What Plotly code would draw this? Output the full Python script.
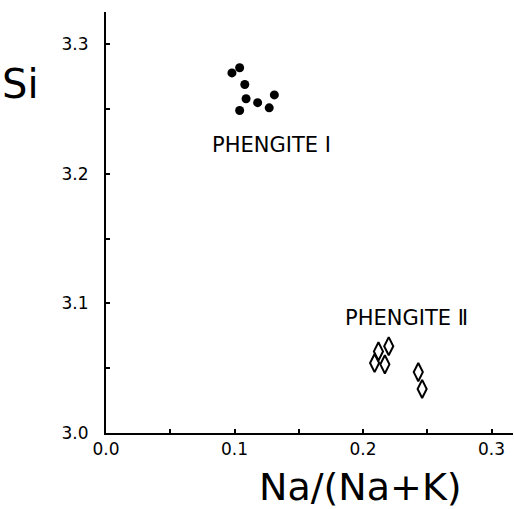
import plotly.graph_objects as go

# Phengite I (filled circles)
ph1_x = [0.098, 0.104, 0.108, 0.109, 0.118, 0.131, 0.127, 0.104]
ph1_y = [3.278, 3.282, 3.269, 3.258, 3.255, 3.261, 3.251, 3.249]

# Phengite II (open diamonds)
ph2_x = [0.209, 0.212, 0.217, 0.220, 0.243, 0.246]
ph2_y = [3.054, 3.063, 3.053, 3.067, 3.047, 3.034]

x_tickvals = [0.0, 0.05, 0.1, 0.15, 0.2, 0.25, 0.3]
x_ticktext = ["0.0", "", "0.1", "", "0.2", "", "0.3"]
y_tickvals = [3.0, 3.05, 3.1, 3.15, 3.2, 3.25, 3.3]
y_ticktext = ["3.0", "", "3.1", "", "3.2", "", "3.3"]

labels = ["PHENGITE Ⅰ", "PHENGITE Ⅱ"]
label_x = [0.129, 0.234]
label_y = [3.2226, 3.0889]

FONT = "DejaVu Sans, sans-serif"

fig = go.Figure()
fig.add_trace(go.Scatter(x=ph1_x, y=ph1_y, mode="markers",
                         marker=dict(symbol="circle", size=9, color="black"),
                         showlegend=False))
fig.add_trace(go.Scatter(x=ph2_x, y=ph2_y, mode="markers",
                         marker=dict(symbol="diamond-tall-open", size=13, color="black",
                                     line=dict(width=2, color="black")),
                         showlegend=False))

for t, x, y in zip(labels, label_x, label_y):
    fig.add_annotation(x=x, y=y, text=t, showarrow=False,
                       font=dict(family=FONT, size=21, color="black"))

fig.add_annotation(xref="paper", yref="paper", x=-0.21, y=0.83, text="Si",
                   showarrow=False, font=dict(family=FONT, size=40, color="black"),
                   xanchor="center", yanchor="middle")
fig.add_annotation(xref="paper", yref="paper", x=0.625, y=-0.128, text="Na/(Na+K)",
                   showarrow=False, font=dict(family=FONT, size=38, color="black"),
                   xanchor="center", yanchor="middle")

fig.update_xaxes(range=[0, 0.3167], tickvals=x_tickvals, ticktext=x_ticktext,
                 ticks="inside", ticklen=4, tickwidth=1.5, tickcolor="black",
                 showline=True, linecolor="black", linewidth=2, automargin=False,
                 showgrid=False, zeroline=False,
                 tickfont=dict(family=FONT, size=17, color="black"))
fig.update_yaxes(range=[3.0, 3.325], tickvals=y_tickvals, ticktext=y_ticktext,
                 ticks="inside", ticklen=4, tickwidth=1.5, tickcolor="black",
                 showline=True, linecolor="black", linewidth=2, automargin=False,
                 showgrid=False, zeroline=False, ticklabelstandoff=12,
                 tickfont=dict(family=FONT, size=17, color="black"))

fig.update_layout(width=514, height=509, margin=dict(l=106, r=1, t=12, b=76),
                  plot_bgcolor="white", paper_bgcolor="white")

fig.write_html("out.html", config={"displayModeBar": False},
               post_script="document.body.style.margin='0';document.body.style.overflow='hidden';")
